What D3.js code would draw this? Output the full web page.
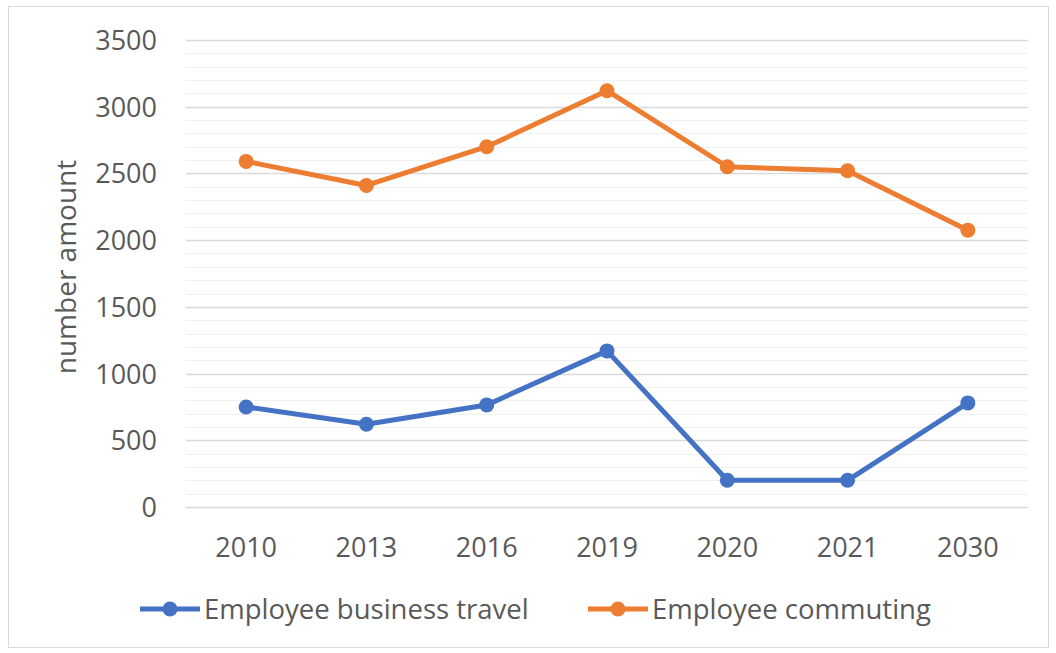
<!DOCTYPE html>
<html>
<head>
<meta charset="utf-8">
<script src="https://cdn.jsdelivr.net/npm/d3@7"></script>
<style>
  body { margin: 0; background: #fff; }
  text { font-family: "Open Sans", Lato, sans-serif; fill: #595959; }
</style>
</head>
<body>
<div id="chart"></div>
<script>
// data
var years = ["2010", "2013", "2016", "2019", "2020", "2021", "2030"];
var business_travel = [750, 620, 765, 1170, 200, 200, 780];
var commuting = [2590, 2410, 2700, 3120, 2550, 2520, 2075];
var series_names = ["Employee business travel", "Employee commuting"];
var y_ticks = [0, 500, 1000, 1500, 2000, 2500, 3000, 3500];

var width = 1056, height = 653;
var margin = {"left": 186, "right": 28, "top": 40, "down": 146};
var blue = "#4472c4", orange = "#ed7d31";

var svg = d3.select("#chart").append("svg")
    .attr("width", width)
    .attr("height", height);

// outer frame
svg.append("rect")
    .attr("x", 8.5).attr("y", 6.5)
    .attr("width", width - 16).attr("height", height - 12)
    .attr("fill", "white")
    .attr("stroke", "#d9d9d9");

var x = d3.scaleBand().domain(years)
    .range([margin.left, width - margin.right]);
var y = d3.scaleLinear().domain([0, 3500])
    .range([height - margin.down, margin.top]);

// minor gridlines (every 100)
svg.append("g").selectAll("line")
    .data(d3.range(100, 3500, 100).filter(function(v){ return v % 500 != 0; }))
    .enter().append("line")
    .attr("x1", margin.left).attr("x2", width - margin.right)
    .attr("y1", function(d){ return Math.round(y(d)) + 0.5; })
    .attr("y2", function(d){ return Math.round(y(d)) + 0.5; })
    .attr("stroke", "#f0f0f0");

// major gridlines
svg.append("g").selectAll("line")
    .data(y_ticks)
    .enter().append("line")
    .attr("x1", margin.left).attr("x2", width - margin.right)
    .attr("y1", function(d){ return Math.round(y(d)) + 0.5; })
    .attr("y2", function(d){ return Math.round(y(d)) + 0.5; })
    .attr("stroke", "#d9d9d9")
    .attr("stroke-width", 1.5);

// y axis labels
var yAxis = svg.append("g")
    .attr("transform", "translate(" + (margin.left - 29) + ",0)")
    .call(d3.axisLeft(y).tickValues(y_ticks).tickFormat(d3.format("d")).tickSize(0).tickPadding(0));
yAxis.select(".domain").remove();
yAxis.selectAll("text")
    .style("font-size", "27px")
    .attr("dy", "0.35em");

// x axis labels
var xAxis = svg.append("g")
    .attr("transform", "translate(0," + (height - margin.down) + ")")
    .call(d3.axisBottom(x).tickSize(0).tickPadding(50));
xAxis.select(".domain").remove();
xAxis.selectAll("text")
    .style("font-size", "27px")
    .attr("dy", "0");

// y axis title
svg.append("text")
    .attr("transform", "translate(76,267) rotate(-90)")
    .attr("text-anchor", "middle")
    .style("font-size", "28px")
    .text("number amount");

var data = [
    {"name": series_names[0], "values": business_travel, "color": blue},
    {"name": series_names[1], "values": commuting, "color": orange}
];

var line = d3.line()
    .x(function(d, i){ return x(years[i]) + x.bandwidth() / 2; })
    .y(function(d){ return y(d); });

data.forEach(function(s) {
    svg.append("path")
        .attr("d", line(s.values))
        .attr("fill", "none")
        .attr("stroke", s.color)
        .attr("stroke-width", 5)
        .attr("stroke-linejoin", "round");
    svg.append("g").selectAll("circle")
        .data(s.values)
        .enter().append("circle")
        .attr("cx", function(d, i){ return x(years[i]) + x.bandwidth() / 2; })
        .attr("cy", function(d){ return y(d); })
        .attr("r", 7.5)
        .attr("fill", s.color);
});

// legend
var legend_x = [140, 588];
var legend = svg.selectAll(".legend")
    .data(data)
    .enter().append("g")
    .attr("transform", function(d, i){ return "translate(" + legend_x[i] + ",609)"; });
legend.append("line")
    .attr("x1", 0).attr("x2", 60)
    .attr("stroke", function(d){ return d.color; })
    .attr("stroke-width", 5);
legend.append("circle")
    .attr("cx", 30).attr("r", 7.5)
    .attr("fill", function(d){ return d.color; });
legend.append("text")
    .attr("x", 64)
    .attr("dy", "0.35em")
    .style("font-size", "27.5px")
    .text(function(d){ return d.name; });
</script>
</body>
</html>
